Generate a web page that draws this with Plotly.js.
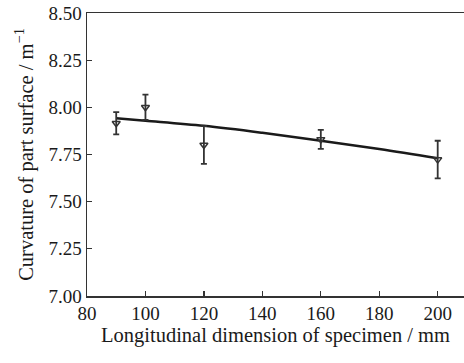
<!DOCTYPE html>
<html>
<head>
<meta charset="utf-8">
<script src="https://cdn.plot.ly/plotly-3.0.1.min.js"></script>
<style>
html,body{margin:0;padding:0;background:#fff;}
#chart{width:464px;height:363px;}
</style>
</head>
<body>
<div id="chart"></div>
<script>
// Measured points (specimen length in mm, curvature in 1/m)
var lengths = [90, 100, 120, 160, 200];
var curvature = [7.916, 8.00, 7.80, 7.83, 7.723];
var errors = [0.059, 0.067, 0.10, 0.05, 0.10];

// Fitted trend line
var fitX = [90, 100, 120, 140, 160, 180, 200];
var fitY = [7.942, 7.929, 7.902, 7.865, 7.823, 7.779, 7.730];

var xTicks = [80, 100, 120, 140, 160, 180, 200];
var yTicks = [7.00, 7.25, 7.50, 7.75, 8.00, 8.25, 8.50];

var fontFam = 'Liberation Serif, Times New Roman, serif';

var traces = [
  {
    x: fitX, y: fitY, type: 'scatter', mode: 'lines',
    line: {color: '#1a1a1a', width: 2.5, shape: 'spline'},
    hoverinfo: 'skip', showlegend: false
  },
  {
    x: lengths, y: curvature, type: 'scatter', mode: 'markers',
    marker: {symbol: 'triangle-down-open', size: 7, color: '#333', line: {width: 1.5, color: '#333'}},
    error_y: {type: 'data', array: errors, visible: true, color: '#333', thickness: 1.8, width: 3},
    showlegend: false
  }
];

var layout = {
  width: 464, height: 363,
  margin: {l: 87, r: 0, t: 13, b: 67},
  paper_bgcolor: '#fff', plot_bgcolor: '#fff',
  font: {family: fontFam, color: '#1a1a1a', size: 19},
  xaxis: {
    range: [80, 209], tickvals: xTicks, ticktext: xTicks.map(String),
    ticks: 'inside', ticklen: 5, tickwidth: 1.3, tickcolor: '#333',
    showline: true, linecolor: '#333', linewidth: 1.5, mirror: true,
    showgrid: false, zeroline: false,
    tickfont: {family: fontFam, size: 19, color: '#1a1a1a'},
    title: {text: 'Longitudinal dimension of specimen / mm', font: {family: fontFam, size: 20.5, color: '#1a1a1a'}, standoff: 3}
  },
  yaxis: {
    range: [7.0, 8.5], tickvals: yTicks, ticktext: yTicks.map(function(v){return v.toFixed(2);}),
    ticks: 'inside', ticklen: 5, tickwidth: 1.3, tickcolor: '#333',
    showline: true, linecolor: '#333', linewidth: 1.5,
    showgrid: false, zeroline: false,
    tickfont: {family: fontFam, size: 19, color: '#1a1a1a'},
    title: {text: 'Curvature of part surface / m<sup>\u22121</sup>', font: {family: fontFam, size: 20.5, color: '#1a1a1a'}, standoff: 9}
  }
};

Plotly.newPlot('chart', traces, layout, {displayModeBar: false, staticPlot: true});
</script>
</body>
</html>
